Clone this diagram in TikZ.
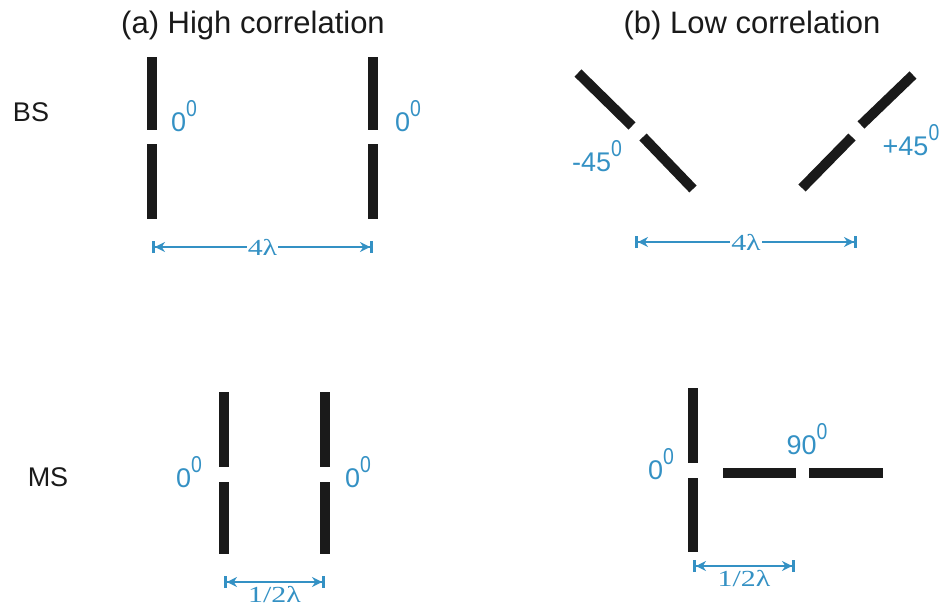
\documentclass[tikz,border=0pt]{standalone}
\usepackage{fontspec}
\usepackage{graphicx}
\setmainfont{Liberation Sans}
\newfontfamily\dimfont{Liberation Serif}
\usetikzlibrary{arrows.meta}
\definecolor{dimblue}{RGB}{52,145,196}
\definecolor{dipblack}{RGB}{26,26,26}
\newcommand{\degs}{\raisebox{0.55em}{\scalebox{0.72}[0.85]{0}}}
\newcommand{\dimlab}[1]{\scalebox{1.3}[1]{#1}}

\begin{document}
\begin{tikzpicture}[
        x=1pt, y=-1pt,
        dip/.style={line width=10pt, dipblack},
        title/.style={font=\fontsize{31}{36}\selectfont, text=dipblack},
        side/.style={font=\fontsize{27}{32}\selectfont, text=dipblack},
        ang/.style={font=\fontsize{27}{32}\selectfont, text=dimblue, inner sep=0pt},
        dimtxt/.style={font=\dimfont\fontsize{23}{26}\selectfont, text=dimblue, inner sep=1pt},
        dim/.style={{Bar[width=12pt,line width=3pt]Stealth[length=10pt,width=10pt]}-{Stealth[length=10pt,width=10pt]Bar[width=12pt,line width=3pt]},
                    line width=2pt, dimblue}
    ]
        \useasboundingbox (0,0) rectangle (943,616);

        % titles and rows
        \node[title] (ta) at (253,25) {(a) High correlation};
        \node[title] (tb) at (752,25) {(b) Low correlation};
        \node[side] (bs) at (31,112) {BS};
        \node[side] (ms) at (48,477) {MS};

        % (a) BS, 0/0
        \draw[dip] (152,57) -- (152,130);
        \draw[dip] (152,144) -- (152,219);
        \draw[dip] (373,57) -- (373,130);
        \draw[dip] (373,144) -- (373,219);
        \node[ang] (a1) at (184,116) {0\degs};
        \node[ang] (a2) at (408,116) {0\degs};

        % (b) BS, -45/+45
        \draw[dip] (578,73) -- (632,126);
        \draw[dip] (643,137) -- (693,189);
        \draw[dip] (913,75) -- (861,125);
        \draw[dip] (852,137) -- (802,188);
        \node[ang] (b1) at (597,156) {-45\degs};
        \node[ang] (b2) at (911,140) {+45\degs};

        % (a) MS, 0/0
        \draw[dip] (224,392) -- (224,467);
        \draw[dip] (224,482) -- (224,554);
        \draw[dip] (325,392) -- (325,467);
        \draw[dip] (325,482) -- (325,554);
        \node[ang] (c1) at (189,472) {0\degs};
        \node[ang] (c2) at (358,472) {0\degs};

        % (b) MS, 0/90
        \draw[dip] (693,388) -- (693,463);
        \draw[dip] (693,478) -- (693,552);
        \draw[dip] (723,473) -- (796,473);
        \draw[dip] (809,473) -- (883,473);
        \node[ang] (d1) at (661,464) {0\degs};
        \node[ang] (d2) at (807,439) {90\degs};

        % spacings
        \coordinate (sa1) at (152,247);
        \coordinate (sa2) at (373,247);
        \coordinate (sb1) at (635,242);
        \coordinate (sb2) at (857,242);
        \coordinate (sc1) at (224,582);
        \coordinate (sc2) at (325,582);
        \coordinate (sd1) at (693,566);
        \coordinate (sd2) at (795,566);

        \draw[dim] (sa1) -- node[dimtxt, fill=white] {\dimlab{4λ}} (sa2);
        \draw[dim] (sb1) -- node[dimtxt, fill=white] {\dimlab{4λ}} (sb2);
        \draw[dim] (sc1) -- node[dimtxt, below=2pt] {\dimlab{1/2λ}} (sc2);
        \draw[dim] (sd1) -- node[dimtxt, below=2pt] {\dimlab{1/2λ}} (sd2);
    \end{tikzpicture}
\end{document}
